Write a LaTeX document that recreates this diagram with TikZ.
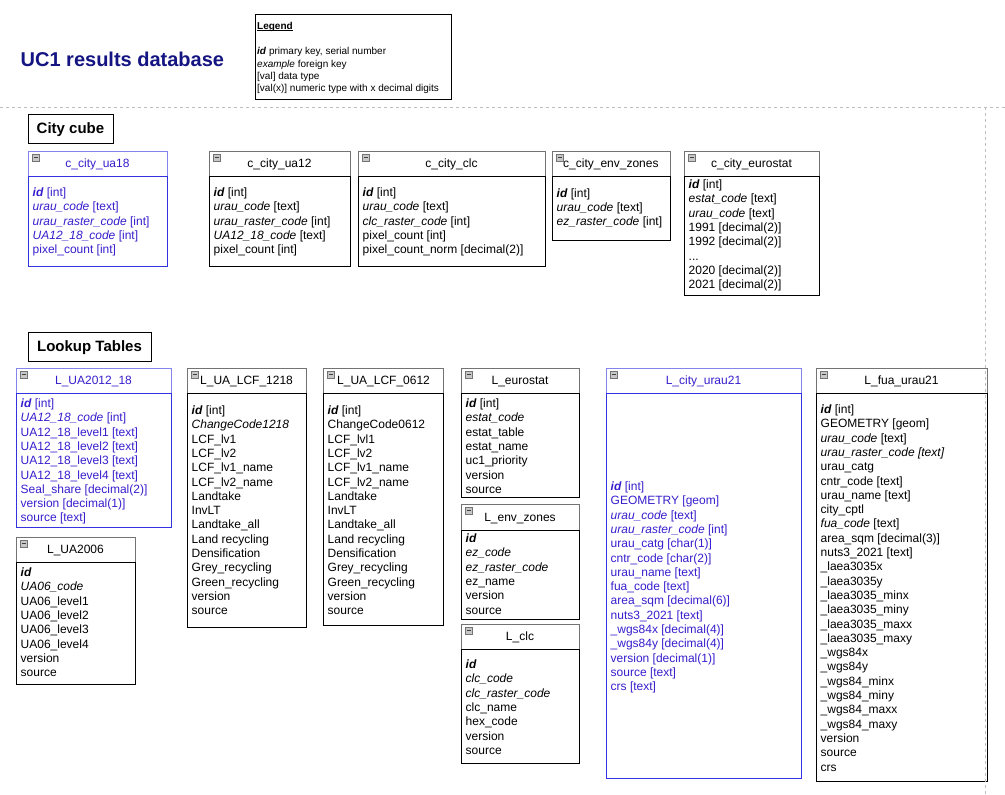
\documentclass[tikz,border=0pt]{standalone}
\usepackage{fontspec}
\setmainfont{Liberation Sans}
\definecolor{boxblue}{RGB}{50,50,225}
\definecolor{txtblue}{RGB}{55,30,205}
\definecolor{navyttl}{RGB}{20,20,130}
\definecolor{dashgray}{RGB}{190,190,190}
\newcommand\fk[1]{\textit{#1}}
\newcommand\pk{\textbf{\textit{id}}}
\newcommand\rows[1]{\begin{tabular}[t]{@{}l@{}}#1\end{tabular}}
\newcommand\myul[1]{\setbox0\hbox{#1}\rlap{\rule[-1.2pt]{\wd0}{0.7pt}}\box0}
\newcommand\tframe[8]{%
  \fill[white] (#2,#3) rectangle (#4,#5);
  \draw[#8, line width=1pt] (#2,#3) coordinate (#1-nw) rectangle (#4,#6);
  \draw[#7, line width=1pt] (#2,#6) coordinate (#1-sl) rectangle (#4,#5) coordinate (#1-se);
  \draw[fill=black!22, draw=black!55, line width=0.6pt] ({#2+4},{#3+3}) rectangle ({#2+11},{#3+10});
  \draw[black!75, line width=1.2pt] ({#2+5.5},{#3+6.5}) -- ({#2+9.5},{#3+6.5});
}
\tikzset{
  body/.style={anchor=base west, inner sep=0pt, font=\fontsize{12}{14.3}\selectfont},
  ttl/.style={anchor=base, inner sep=0pt, font=\fontsize{12}{14.3}\selectfont},
  ttll/.style={anchor=base west, inner sep=0pt, font=\fontsize{12}{14.3}\selectfont},
  sect/.style={draw=black, line width=1pt, fill=white, inner sep=0pt, text height=10.75pt, text depth=0pt, font=\fontsize{15}{18}\selectfont\bfseries},
  dashline/.style={draw=dashgray, line width=1pt, dash pattern=on 3pt off 3pt},
  bluebox/.style={draw=boxblue},
  blackbox/.style={draw=black},
  bluehead/.style={draw=boxblue!60},
  blackhead/.style={draw=black!55},
}
\begin{document}
\begin{tikzpicture}[x=1pt,y=-1pt]
\useasboundingbox (0,0) rectangle (1005,795);
\fill[white] (0,0) rectangle (1005,795);

% title
\node[anchor=base west, inner sep=0pt, text=navyttl, font=\fontsize{20}{24}\selectfont\bfseries] (title) at (20.5,66) {UC1 results database};

% legend
\draw[black, line width=1pt, fill=white] (255,14) coordinate (leg-nw) rectangle (451,99) coordinate (leg-se);
\node[anchor=base west, inner sep=0pt, font=\fontsize{10}{12.5}\selectfont] (legtxt) at (257,29.5)
  {\rows{\textbf{\myul{Legend}}\\ \\ \pk{} primary key, serial number\\ \fk{example} foreign key\\ {[val]} data type\\ {[val(x)]} numeric type with x decimal digits}};

% dashed separators
\coordinate (hl1) at (0,107);
\coordinate (hl2) at (1005,107);
\draw[dashline] (hl1) -- (hl2);

% sections
\node[sect, minimum width=85pt, minimum height=29pt] (citycube) at (70.5,128.5) {City cube};
\node[sect, minimum width=123pt, minimum height=29pt] (lookup) at (89.5,346.5) {Lookup Tables};

% ---------- City cube tables ----------
\tframe{ua18}{28}{151}{167}{266}{176}{bluebox}{bluehead}
\node[ttl, text=txtblue] (ua18t) at (97.5,167.5) {c\_city\_ua18};
\node[body, text=txtblue] (ua18b) at (32.5,196.5) {\rows{\pk{} [int]\\ \fk{urau\_code} [text]\\ \fk{urau\_raster\_code} [int]\\ \fk{UA12\_18\_code} [int]\\ pixel\_count [int]}};

\tframe{ua12}{209}{151}{350}{266}{176}{blackbox}{blackhead}
\node[ttl] (ua12t) at (279.5,167.5) {c\_city\_ua12};
\node[body] (ua12b) at (213.5,196.5) {\rows{\pk{} [int]\\ \fk{urau\_code} [text]\\ \fk{urau\_raster\_code} [int]\\ \fk{UA12\_18\_code} [text]\\ pixel\_count [int]}};

\tframe{cclc}{358}{151}{545}{266}{176}{blackbox}{blackhead}
\node[ttl] (cclct) at (451.5,167.5) {c\_city\_clc};
\node[body] (cclcb) at (362.5,196.5) {\rows{\pk{} [int]\\ \fk{urau\_code} [text]\\ \fk{clc\_raster\_code} [int]\\ pixel\_count [int]\\ pixel\_count\_norm [decimal(2)]}};

\tframe{cenv}{552}{151}{670}{240}{176}{blackbox}{blackhead}
\node[ttll] (cenvt) at (563,167.5) {c\_city\_env\_zones};
\node[body] (cenvb) at (556.5,197) {\rows{\pk{} [int]\\ \fk{urau\_code} [text]\\ \fk{ez\_raster\_code} [int]}};

\tframe{ceur}{684}{151}{819}{295}{176}{blackbox}{blackhead}
\node[ttl] (ceurt) at (751.5,167.5) {c\_city\_eurostat};
\node[body] (ceurb) at (688.5,188.5) {\rows{\pk{} [int]\\ \fk{estat\_code} [text]\\ \fk{urau\_code} [text]\\ 1991 [decimal(2)]\\ 1992 [decimal(2)]\\ ...\\ 2020 [decimal(2)]\\ 2021 [decimal(2)]}};

% ---------- Lookup tables ----------
\tframe{lua18}{16}{368}{171}{527}{393}{bluebox}{bluehead}
\node[ttl, text=txtblue] (lua18t) at (93.5,384.5) {L\_UA2012\_18};
\node[body, text=txtblue] (lua18b) at (20.5,407.5) {\rows{\pk{} [int]\\ \fk{UA12\_18\_code} [int]\\ UA12\_18\_level1 [text]\\ UA12\_18\_level2 [text]\\ UA12\_18\_level3 [text]\\ UA12\_18\_level4 [text]\\ Seal\_share [decimal(2)]\\ version [decimal(1)]\\ source [text]}};

\tframe{lua06}{16}{537}{135}{684}{562}{blackbox}{blackhead}
\node[ttl] (lua06t) at (75.5,553.5) {L\_UA2006};
\node[body] (lua06b) at (20.5,576.5) {\rows{\pk\\ \fk{UA06\_code}\\ UA06\_level1\\ UA06\_level2\\ UA06\_level3\\ UA06\_level4\\ version\\ source}};

\tframe{lcf18}{187}{368}{306}{627}{393}{blackbox}{blackhead}
\node[ttll] (lcf18t) at (200,384.5) {L\_UA\_LCF\_1218};
\node[body] (lcf18b) at (191.5,414.5) {\rows{\pk{} [int]\\ \fk{ChangeCode1218}\\ LCF\_lv1\\ LCF\_lv2\\ LCF\_lv1\_name\\ LCF\_lv2\_name\\ Landtake\\ InvLT\\ Landtake\_all\\ Land recycling\\ Densification\\ Grey\_recycling\\ Green\_recycling\\ version\\ source}};

\tframe{lcf06}{323}{368}{443}{625}{393}{blackbox}{blackhead}
\node[ttll] (lcf06t) at (337,384.5) {L\_UA\_LCF\_0612};
\node[body] (lcf06b) at (327.5,414.5) {\rows{\pk{} [int]\\ ChangeCode0612\\ LCF\_lvl1\\ LCF\_lv2\\ LCF\_lv1\_name\\ LCF\_lv2\_name\\ Landtake\\ InvLT\\ Landtake\_all\\ Land recycling\\ Densification\\ Grey\_recycling\\ Green\_recycling\\ version\\ source}};

\tframe{leur}{461}{368}{579}{497}{393}{blackbox}{blackhead}
\node[ttl] (leurt) at (520,384.5) {L\_eurostat};
\node[body] (leurb) at (465.5,407.5) {\rows{\pk{} [int]\\ \fk{estat\_code}\\ estat\_table\\ estat\_name\\ uc1\_priority\\ version\\ source}};

\tframe{lenv}{461}{504}{579}{619}{530}{blackbox}{blackhead}
\node[ttl] (lenvt) at (520,521.5) {L\_env\_zones};
\node[body] (lenvb) at (465.5,542.5) {\rows{\pk\\ \fk{ez\_code}\\ \fk{ez\_raster\_code}\\ ez\_name\\ version\\ source}};

\tframe{lclc}{461}{624}{579}{763}{649}{blackbox}{blackhead}
\node[ttl] (lclct) at (520,640.5) {L\_clc};
\node[body] (lclcb) at (465.5,668.5) {\rows{\pk\\ \fk{clc\_code}\\ \fk{clc\_raster\_code}\\ clc\_name\\ hex\_code\\ version\\ source}};

\tframe{lurau}{606}{368}{801}{778}{393}{bluebox}{bluehead}
\node[ttl, text=txtblue] (lurt) at (703.5,384.5) {L\_city\_urau21};
\node[body, text=txtblue] (lurb) at (610.5,490.5) {\rows{\pk{} [int]\\ GEOMETRY [geom]\\ \fk{urau\_code} [text]\\ \fk{urau\_raster\_code} [int]\\ urau\_catg [char(1)]\\ cntr\_code [char(2)]\\ urau\_name [text]\\ fua\_code [text]\\ area\_sqm [decimal(6)]\\ nuts3\_2021 [text]\\ \_wgs84x [decimal(4)]\\ \_wgs84y [decimal(4)]\\ version [decimal(1)]\\ source [text]\\ crs [text]}};

\tframe{lfua}{816}{368}{987}{781}{393}{blackbox}{blackhead}
\node[ttl] (lfuat) at (901.5,384.5) {L\_fua\_urau21};
\node[body] (lfuab) at (820.5,413.5) {\rows{\pk{} [int]\\ GEOMETRY [geom]\\ \fk{urau\_code} [text]\\ \fk{urau\_raster\_code [text]}\\ urau\_catg\\ cntr\_code [text]\\ urau\_name [text]\\ city\_cptl\\ \fk{fua\_code} [text]\\ area\_sqm [decimal(3)]\\ nuts3\_2021 [text]\\ \_laea3035x\\ \_laea3035y\\ \_laea3035\_minx\\ \_laea3035\_miny\\ \_laea3035\_maxx\\ \_laea3035\_maxy\\ \_wgs84x\\ \_wgs84y\\ \_wgs84\_minx\\ \_wgs84\_miny\\ \_wgs84\_maxx\\ \_wgs84\_maxy\\ version\\ source\\ crs}};

% vertical dashed separator
\coordinate (vl1) at (985,107);
\coordinate (vl2) at (985,795);
\draw[dashline] (vl1) -- (vl2);
\end{tikzpicture}
\end{document}
